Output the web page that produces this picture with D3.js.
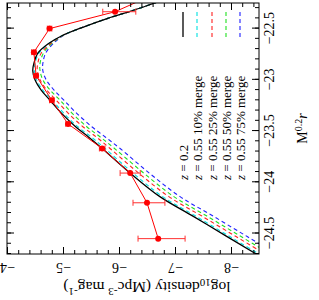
<!DOCTYPE html>
<html lang="en">
<head>
<meta charset="UTF-8">
<title>Luminosity function</title>
<script src="https://d3js.org/d3.v7.min.js"></script>
<style>
  body { margin: 0; background: #fff; }
  text { font-family: "Liberation Serif", "DejaVu Serif", serif; fill: #000; }
</style>
</head>
<body>
<script>
// model curves, sampled on a magnitude grid
var magGrid = [-22.18, -22.25, -22.33, -22.40, -22.49, -22.57, -22.65, -22.74, -22.84, -22.91, -23.00, -23.10,
               -23.20, -23.33, -23.46, -23.56, -23.67, -23.91, -24.14, -24.33, -24.53, -24.70, -24.80];
var z02     = [-7.02, -6.64, -6.21, -5.80, -5.34, -4.98, -4.73, -4.55, -4.48, -4.46, -4.50, -4.61,
               -4.77, -4.98, -5.23, -5.46, -5.70, -6.20, -6.73, -7.32, -7.93, -8.45, -8.75];
var merge10 = [-7.02, -6.64, -6.21, -5.80, -5.34, -4.98, -4.74, -4.57, -4.50, -4.49, -4.53, -4.64,
               -4.81, -5.02, -5.27, -5.51, -5.75, -6.25, -6.78, -7.37, -7.98, -8.50, -8.80];
var merge25 = [-7.02, -6.64, -6.21, -5.80, -5.34, -4.99, -4.77, -4.61, -4.55, -4.54, -4.59, -4.71,
               -4.88, -5.10, -5.36, -5.60, -5.84, -6.35, -6.89, -7.48, -8.09, -8.61, -8.91];
var merge50 = [-7.02, -6.64, -6.21, -5.80, -5.34, -4.99, -4.79, -4.65, -4.59, -4.59, -4.64, -4.77,
               -4.95, -5.17, -5.43, -5.67, -5.92, -6.44, -6.98, -7.57, -8.18, -8.70, -9.00];
var merge75 = [-7.02, -6.64, -6.21, -5.80, -5.34, -5.00, -4.82, -4.69, -4.64, -4.64, -4.70, -4.84,
               -5.02, -5.25, -5.52, -5.76, -6.02, -6.54, -7.09, -7.68, -8.29, -8.81, -9.10];

// measured points (first one falls outside the frame)
var obsMag = [-22.10, -22.335, -22.50, -22.73, -22.96, -23.20, -23.43, -23.67, -23.91, -24.20, -24.55];
var obsPhi = [-6.90, -5.93, -4.76, -4.48, -4.52, -4.80, -5.09, -5.70, -6.20, -6.50, -6.70];
var obsLo  = [-7.00, -6.30, -4.80, -4.52, -4.56, -4.84, -5.13, -5.75, -6.38, -6.82, -7.18];
var obsHi  = [-6.80, -5.71, -4.72, -4.44, -4.48, -4.76, -5.05, -5.65, -6.02, -6.25, -6.34];

var magTicks = [-22.5, -23, -23.5, -24, -24.5];
var phiTicks = [-4, -5, -6, -7, -8];

var series = [
    {label: "0.2", vals: z02, color: "#000000", dash: null, width: 1.3},
    {label: "0.55 10% merge", vals: merge10, color: "#00e0e0", dash: "4,3", width: 1.1},
    {label: "0.55 25% merge", vals: merge25, color: "#ff2020", dash: "4,3", width: 1.1},
    {label: "0.55 50% merge", vals: merge50, color: "#20e020", dash: "4,3", width: 1.1},
    {label: "0.55 75% merge", vals: merge75, color: "#2020ff", dash: "4,3", width: 1.1}
];

// the whole plot is drawn upright, then turned a quarter turn anticlockwise
var padL = 46, padR = 297, padT = 7, padB = 259;

var svg = d3.select("body").append("svg")
    .attr("width", 319)
    .attr("height", 300);

var g = svg.append("g")
    .attr("transform", "translate(0,300) rotate(-90)");

var x = d3.scaleLinear().domain([-24.7, -22.25]).range([padL, padR]);
var y = d3.scaleLinear().domain([-8.5, -4]).range([padB, padT]);

g.append("clipPath").attr("id", "clip")
    .append("rect")
    .attr("x", padL).attr("y", padT)
    .attr("width", padR - padL).attr("height", padB - padT);

var plot = g.append("g").attr("clip-path", "url(#clip)");

var line = d3.line()
    .x(d => x(d[0]))
    .y(d => y(d[1]))
    .curve(d3.curveCatmullRom.alpha(0.5));

// draw blue first so black ends on top
series.slice().reverse().forEach(s => {
    plot.append("path")
        .datum(magGrid.map((m, i) => [m, s.vals[i]]))
        .attr("fill", "none")
        .attr("stroke", s.color)
        .attr("stroke-width", s.width)
        .attr("stroke-dasharray", s.dash)
        .attr("d", line);
});

// data: connecting line, error bars, markers
var obs = obsMag.map((m, i) => ({m: m, p: obsPhi[i], lo: obsLo[i], hi: obsHi[i]}));

plot.append("path")
    .datum(obs)
    .attr("fill", "none")
    .attr("stroke", "#ff0000")
    .attr("stroke-width", 1)
    .attr("d", d3.line().x(d => x(d.m)).y(d => y(d.p)));

var eb = plot.append("g").attr("stroke", "#ff3030").attr("stroke-width", 1);
obs.forEach(d => {
    eb.append("line").attr("x1", x(d.m)).attr("x2", x(d.m)).attr("y1", y(d.lo)).attr("y2", y(d.hi));
    eb.append("line").attr("x1", x(d.m) - 3).attr("x2", x(d.m) + 3).attr("y1", y(d.lo)).attr("y2", y(d.lo));
    eb.append("line").attr("x1", x(d.m) - 3).attr("x2", x(d.m) + 3).attr("y1", y(d.hi)).attr("y2", y(d.hi));
});

plot.append("g").selectAll("circle")
    .data(obs)
    .enter().append("circle")
    .attr("cx", d => x(d.m))
    .attr("cy", d => y(d.p))
    .attr("r", 3)
    .attr("fill", "#ff0000");

// axes: ticks inward on all four sides
function minorTicks(a, b, step) {
    return d3.range(Math.round(a / step), Math.round(b / step) + 1).map(k => +(k * step).toFixed(3));
}
var magMinor = minorTicks(-24.7, -22.3, 0.1);
var phiMinor = minorTicks(-8.4, -4, 0.2);

function styleAxis(sel) {
    sel.select(".domain").remove();
    sel.selectAll("line").attr("stroke", "#000");
}

g.append("g").attr("transform", `translate(0,${padB})`)
    .call(d3.axisBottom(x).tickValues(magMinor).tickSize(-4).tickFormat(""))
    .call(styleAxis);
g.append("g").attr("transform", `translate(0,${padT})`)
    .call(d3.axisTop(x).tickValues(magMinor).tickSize(-4).tickFormat(""))
    .call(styleAxis);
g.append("g").attr("transform", `translate(${padL},0)`)
    .call(d3.axisLeft(y).tickValues(phiMinor).tickSize(-4).tickFormat(""))
    .call(styleAxis);
g.append("g").attr("transform", `translate(${padR},0)`)
    .call(d3.axisRight(y).tickValues(phiMinor).tickSize(-4).tickFormat(""))
    .call(styleAxis);

var xAxis = g.append("g").attr("transform", `translate(0,${padB})`)
    .call(d3.axisBottom(x).tickValues(magTicks).tickSize(-7).tickPadding(5).tickFormat(d3.format("")))
    .call(styleAxis);
xAxis.selectAll("text").attr("font-size", 14);

g.append("g").attr("transform", `translate(0,${padT})`)
    .call(d3.axisTop(x).tickValues(magTicks).tickSize(-7).tickFormat(""))
    .call(styleAxis);
g.append("g").attr("transform", `translate(${padR},0)`)
    .call(d3.axisRight(y).tickValues(phiTicks).tickSize(-7).tickFormat(""))
    .call(styleAxis);

var yAxis = g.append("g").attr("transform", `translate(${padL},0)`)
    .call(d3.axisLeft(y).tickValues(phiTicks).tickSize(-7).tickFormat(d3.format("")))
    .call(styleAxis);
yAxis.selectAll("text")
    .attr("x", null).attr("dy", null)
    .attr("text-anchor", "middle")
    .attr("transform", "translate(-9,0) rotate(-90)")
    .attr("font-size", 14);

g.append("rect")
    .attr("x", padL).attr("y", padT)
    .attr("width", padR - padL).attr("height", padB - padT)
    .attr("fill", "none").attr("stroke", "#000").attr("stroke-width", 1);

// axis titles
var xt = g.append("text")
    .attr("x", (padL + padR) / 2).attr("y", 307)
    .attr("text-anchor", "middle").attr("font-size", 14);
xt.append("tspan").text("M");
xt.append("tspan").attr("font-size", 10).attr("dy", -5).text("0.2");
xt.append("tspan").attr("font-style", "italic").attr("dy", 5).text("r");

var yt = g.append("text")
    .attr("transform", `translate(18,${(padT + padB) / 2 + 14}) rotate(-90)`)
    .attr("text-anchor", "middle").attr("font-size", 15.5);
yt.append("tspan").text("log");
yt.append("tspan").attr("font-size", 11).attr("dy", 3).text("10");
yt.append("tspan").attr("dy", -3).text("density (Mpc");
yt.append("tspan").attr("font-size", 11).attr("dy", -6).text("-3");
yt.append("tspan").attr("dy", 6).text(" mag");
yt.append("tspan").attr("font-size", 11).attr("dy", -6).text("-1");
yt.append("tspan").attr("dy", 6).text(")");

// legend
var rowY = [183, 197, 212, 226, 240];
var legend = g.append("g");
series.forEach((s, i) => {
    legend.append("line")
        .attr("x1", 263).attr("x2", 288)
        .attr("y1", rowY[i]).attr("y2", rowY[i])
        .attr("stroke", s.color).attr("stroke-width", s.width)
        .attr("stroke-dasharray", s.dash);
    var t = legend.append("text")
        .attr("x", 120).attr("y", rowY[i] + 4.5)
        .attr("font-size", 13);
    t.append("tspan").attr("font-style", "italic").text("z");
    t.append("tspan").text(" = " + s.label);
});
</script>
</body>
</html>
